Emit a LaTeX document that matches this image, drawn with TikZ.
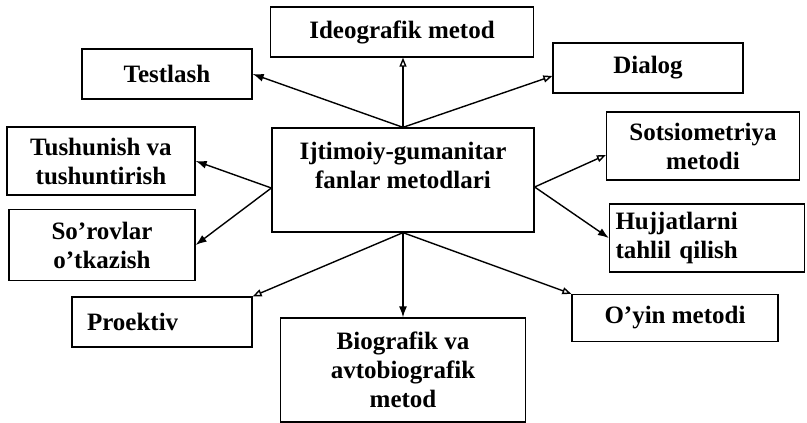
\documentclass[tikz,border=0pt]{standalone}
\usepackage{fontspec}
\setmainfont{Liberation Serif}
\usepackage{tikz}
\usetikzlibrary{arrows.meta}

\begin{document}
\begin{tikzpicture}[
  x=1pt, y=-1pt,
  font=\fontsize{25}{29}\selectfont\bfseries,
  box/.style={draw, line width=1.3pt, fill=white, align=center, inner sep=2pt},
  lbox/.style={box, align=left},
  ar/.style={-{Latex[length=11pt,width=8pt]}, line width=1.4pt},
  oar/.style={-{Triangle[open,length=9pt,width=7pt]}, line width=1.4pt},
]
\useasboundingbox (0,0) rectangle (807,423);
\node[box, minimum width=262pt, minimum height=104pt] (hub) at (403,180) {Ijtimoiy-gumanitar\\fanlar metodlari\\\mbox{}};

\node[box, minimum width=263pt, minimum height=50pt] (ideo) at (402,32) {Ideografik metod};
\node[box, minimum width=170pt, minimum height=50pt] (test) at (167,74) {Testlash};
\node[box, minimum width=190pt, minimum height=50pt] (dial) at (648,68) {Dialog};
\node[box, minimum width=188pt, minimum height=68pt] (tush) at (101,161) {Tushunish va\\tushuntirish};
\node[box, minimum width=186pt, minimum height=71pt] (sorov) at (102,245) {So’rovlar\\o’tkazish};
\node[lbox, text width=150pt, inner xsep=15pt, minimum height=50pt] (proek) at (162,322) {Proektiv};
\node[box, minimum width=193pt, minimum height=68pt] (sots) at (703,146) {Sotsiometriya\\metodi};
\node[lbox, text width=183pt, inner xsep=6pt, minimum height=68pt] (hujj) at (707,238) {Hujjatlarni\\tahlil qilish};
\node[box, minimum width=206pt, minimum height=47pt] (oyin) at (675,318) {O’yin metodi};
\node[box, minimum width=245pt, minimum height=104pt] (bio) at (403,370) {Biografik va\\avtobiografik\\metod};

\draw[ar] (hub.north) -- (test.east);
\draw[oar] (hub.north) -- (hub.north |- ideo.south);
\draw[oar] (hub.north) -- ([yshift=-8pt]dial.west);
\draw[ar] ([yshift=-8pt]hub.west) -- (tush.east);
\draw[ar] ([yshift=-8pt]hub.west) -- (sorov.east);
\draw[oar] ([yshift=-7pt]hub.east) -- ([yshift=-9pt]sots.west);
\draw[ar] ([yshift=-7pt]hub.east) -- (hujj.west);
\draw[oar] (hub.south) -- (proek.north east);
\draw[ar] (hub.south) -- (bio.north);
\draw[oar] (hub.south) -- (oyin.north west);
\end{tikzpicture}
\end{document}
